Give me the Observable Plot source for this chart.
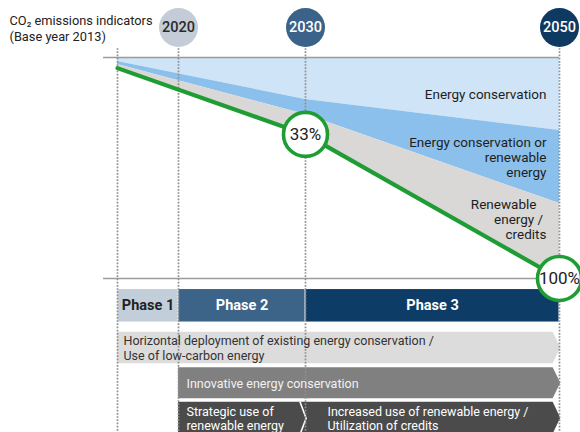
<!DOCTYPE html>
<html><head><meta charset="utf-8">
<script src="https://cdn.jsdelivr.net/npm/d3@7"></script>
<script src="https://cdn.jsdelivr.net/npm/@observablehq/plot@0.6"></script>
<style>body{margin:0;background:#fff}</style>
</head><body><div id="chart"></div>
<script>
// ---- data (schematic reduction pathway, index: top gridline = 100) ----
const years = [2013, 2030, 2050];
const baseline = [100, 100, 100];
const conservationEdge = [98.2, 81.0, 67.0];   // lower edge of "Energy conservation"
const renewableEdge = [96.8, 74.2, 33.9];      // lower edge of "Energy conservation or renewable energy"
const pathway = [95.2, 65.2, 0];               // CO2 emissions pathway (green)

const guideYears = [2013, 2020, 2030, 2050];
const milestoneYears = [2020, 2030, 2050];
const milestoneLabels = ["2020", "2030", "2050"];

const targetYears = [2030, 2050];
const targetValues = [65.2, 0];
const targetLabels = ["33%", "100%"];

const phaseNames = ["Phase 1", "Phase 2", "Phase 3"];
const phaseStart = [2013, 2020, 2030];
const phaseEnd = [2020, 2030, 2050];

const initiativeLabels = [
  "Horizontal deployment of existing energy conservation /\nUse of low-carbon energy",
  "Innovative energy conservation",
  "Strategic use of\nrenewable energy",
  "Increased use of renewable energy /\nUtilization of credits"
];
const initiativeStart = [2013, 2020, 2020, 2030];
const initiativeEnd = [2050, 2050, 2030, 2050];
const initiativeRow = [1, 2, 3, 3];

const areaLabels = ["Energy conservation", "Energy conservation or\nrenewable\nenergy", "Renewable\u00a0\u00a0\u00a0\nenergy /\u00a0\ncredits"];
const areaLabelValues = [83.3, 54.9, 26.8];

// ---- styling / layout ----
const C = {
  light: "#cfe4f7", mid: "#8cc0ec", gray: "#d9d8d6", green: "#1f9d34",
  milestone: ["#c3ccd7", "#3b6389", "#0e3a62"], milestoneText: ["#2a2a2a", "#fff", "#fff"],
  phase: ["#c3cedb", "#3c6388", "#0d3c66"], phaseText: ["#222", "#fff", "#fff"],
  band: ["#dcdcdc", "#808080", "#4b4b4b", "#4b4b4b"], bandText: ["#333", "#f2f2f2", "#fff", "#fff"]
};
const rows = {0: [-5, -19.7], 1: [-24.3, -38.6], 2: [-40.4, -54.4], 3: [-56, -70.4]};
const milestoneY = 113.6, guideTop = 104, guideBottom = -75, gridLeft = 2011.4;
const tipBack = 0.5, tipOut = 0.1, notch = 0.4;
const initDx = [6, 8, 8, 22];

const area = years.map((y, i) => ({year: y, top: baseline[i], a: conservationEdge[i], b: renewableEdge[i], c: pathway[i]}));
const path = years.map((y, i) => ({year: y, v: pathway[i]}));
const milestones = milestoneYears.map((y, i) => ({year: y, label: milestoneLabels[i], i}));
const targets = targetYears.map((y, i) => ({year: y, v: targetValues[i], label: targetLabels[i]}));
const phases = phaseNames.map((n, i) => ({name: n, x1: phaseStart[i], x2: phaseEnd[i], i}));
const areaText = areaLabels.map((t, i) => ({label: t, v: areaLabelValues[i]}));

// arrow (chevron) outlines built from each initiative's start/end year
const arrowPts = [];
initiativeLabels.forEach((lab, i) => {
  const [t, b] = rows[initiativeRow[i]];
  const m = (t + b) / 2;
  const s = (i === 3) ? initiativeStart[i] - notch - 0.1 : initiativeStart[i];
  arrowPts.push({k: i, x: s, y1: b, y2: t});
  arrowPts.push({k: i, x: initiativeEnd[i] - tipBack, y1: b, y2: t});
  arrowPts.push({k: i, x: initiativeEnd[i] + tipOut, y1: m, y2: m});
});
// white separator between the two chevrons of the last row
const [t3, b3] = rows[3];
const sep = [
  {x: initiativeStart[3] - tipBack + 0.08, y: t3},
  {x: initiativeStart[3] + tipOut - 0.05, y: (t3 + b3) / 2},
  {x: initiativeStart[3] - tipBack + 0.08, y: b3}
];
const initTexts = initiativeLabels.map((lab, i) => ({
  label: lab, x: initiativeStart[i], y: (rows[initiativeRow[i]][0] + rows[initiativeRow[i]][1]) / 2, i
}));

const chart = Plot.plot({
  width: 580, height: 432, margin: 0,
  x: {type: "linear", domain: [2013, 2020, 2030, 2050], range: [117, 178, 305, 559], axis: null},
  y: {domain: [0, 100], range: [278, 57], axis: null},
  color: {type: "identity"},
  style: {fontFamily: "Roboto, sans-serif", fontSize: "12px", background: "white", color: "#222", overflow: "visible"},
  marks: [
    Plot.area(area, {x1: "year", y1: "top", y2: "a", fill: C.light}),
    Plot.area(area, {x1: "year", y1: "a", y2: "b", fill: C.mid}),
    Plot.area(area, {x1: "year", y1: "b", y2: "c", fill: C.gray}),
    Plot.ruleY([100, 0], {x1: gridLeft, x2: 2050, stroke: "#9b9b9b", strokeWidth: 1.3}),
    Plot.rect(phases, {x1: "x1", x2: "x2", y1: rows[0][0], y2: rows[0][1], fill: d => C.phase[d.i], insetLeft: 0.5, insetRight: 0.5}),
    ...[0, 1, 2, 3].map(k => Plot.area(arrowPts.filter(d => d.k === k), {x1: "x", y1: "y1", y2: "y2", fill: C.band[k]})),
    Plot.line(sep, {x: "x", y: "y", stroke: "white", strokeWidth: 1.6}),
    Plot.ruleX(guideYears, {y1: guideTop, y2: guideBottom, stroke: "#8f8f8f", strokeWidth: 1.7, strokeDasharray: "1.7,1.5"}),
    Plot.line(path, {x: "year", y: "v", stroke: C.green, strokeWidth: 4.2}),
    Plot.text(phases, {x: d => (d.x1 + d.x2) / 2, y: (rows[0][0] + rows[0][1]) / 2, text: "name", fill: d => C.phaseText[d.i], fontSize: 14.5, fontWeight: "bold"}),
    ...initTexts.map(d => Plot.text([d], {x: "x", y: "y", text: "label", dx: initDx[d.i], textAnchor: "start", lineAnchor: "middle", lineHeight: 1.15, fontSize: 12.5, fill: C.bandText[d.i]})),
    Plot.dot(milestones, {x: "year", y: milestoneY, r: 19.5, fill: d => C.milestone[d.i]}),
    Plot.text(milestones, {x: "year", y: milestoneY, text: "label", fill: d => C.milestoneText[d.i], fontSize: 14.5, fontWeight: 500}),
    Plot.dot(targets, {x: "year", y: "v", r: 22, fill: "white", stroke: C.green, strokeWidth: 3.6}),
    Plot.text(targets, {x: "year", y: "v", text: "label", fontSize: 17, fill: "#222"}),
    Plot.text(areaText, {x: 2050, y: "v", text: "label", dx: -13, textAnchor: "end", lineHeight: 1.1, fontSize: 13.5, fill: "#1e1e1e"}),
    Plot.text(["CO₂ emissions indicators\n(Base year 2013)"], {frameAnchor: "top-left", dx: 9, dy: 14, textAnchor: "start", lineAnchor: "top", lineHeight: 1.2, fontSize: 12.8, fill: "#222"})
  ]
});
document.getElementById("chart").appendChild(chart);
</script>
</body></html>
